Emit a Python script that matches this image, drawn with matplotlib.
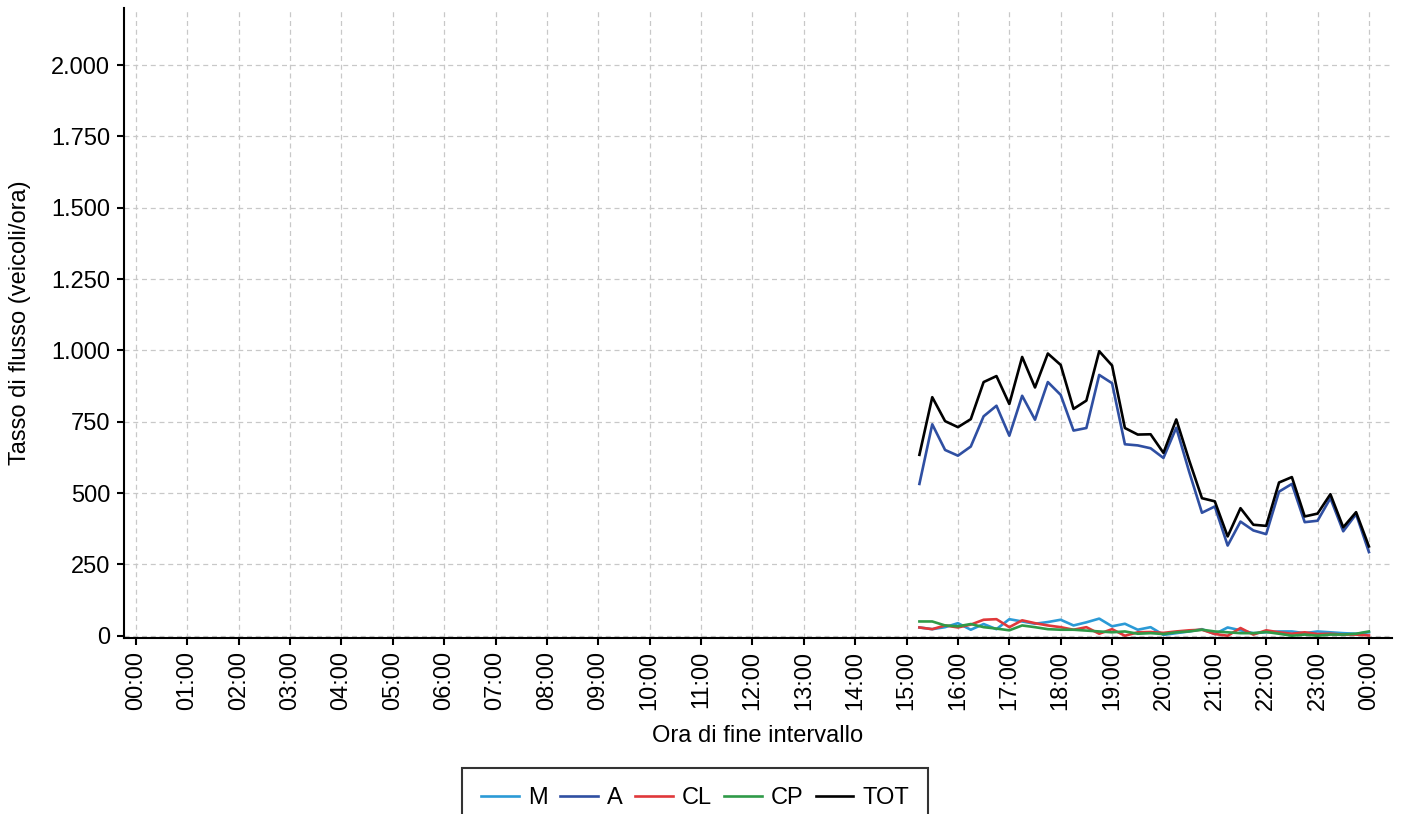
#!/usr/bin/env python3
# -*- coding: utf-8 -*-

"""
Flow rate chart: vehicles per hour by class, 15-minute intervals.
"""

import matplotlib
matplotlib.use("Agg")
import matplotlib.pyplot as plt
from matplotlib.ticker import FuncFormatter

# End-of-interval times (hh:mm), 24:00 = midnight of the next day
times = [
    "15:15", "15:30", "15:45", "16:00", "16:15", "16:30", "16:45", "17:00",
    "17:15", "17:30", "17:45", "18:00", "18:15", "18:30", "18:45", "19:00",
    "19:15", "19:30", "19:45", "20:00", "20:15", "20:30", "20:45", "21:00",
    "21:15", "21:30", "21:45", "22:00", "22:15", "22:30", "22:45", "23:00",
    "23:15", "23:30", "23:45", "24:00",
]

# Flow rates (veicoli/ora)
m_vals = [29, 23, 30, 44, 21, 41, 23, 58, 50, 42, 48, 56, 36, 47, 60, 33, 42, 21,
          30, 3, 9, 15, 23, 6, 29, 19, 9, 12, 15, 15, 9, 15, 12, 9, 7, 12]
a_vals = [532, 741, 651, 631, 663, 769, 806, 701, 841, 757, 889, 844, 719, 728,
          914, 885, 671, 667, 657, 623, 729, 575, 431, 453, 316, 400, 369, 356,
          505, 532, 398, 403, 482, 366, 426, 293]
cl_vals = [29, 23, 36, 29, 39, 56, 58, 30, 54, 44, 36, 30, 21, 30, 7, 23, 0, 12,
           13, 10, 15, 19, 21, 6, 0, 27, 4, 19, 12, 7, 12, 6, 7, 4, 4, 1]
cp_vals = [50, 50, 36, 33, 41, 30, 25, 19, 36, 30, 23, 21, 21, 18, 15, 12, 15, 7,
           9, 6, 12, 15, 21, 15, 12, 9, 9, 13, 7, 0, 4, 0, 4, 4, 7, 15]
tot_vals = [634, 836, 752, 731, 759, 889, 910, 812, 977, 870, 989, 949, 795, 824,
            997, 947, 728, 705, 706, 641, 758, 615, 482, 471, 348, 447, 389, 385,
            537, 556, 418, 428, 496, 380, 433, 313]

series_labels = ["M", "A", "CL", "CP", "TOT"]
series_colors = ["#2b9ad6", "#2f4fa2", "#e0383a", "#2f9a48", "#000000"]

# Hourly tick labels along the x axis
hour_labels = [f"{h:02d}:00" for h in range(24)] + ["00:00"]


def to_hours(label):
    """Convert an 'hh:mm' string into decimal hours"""
    hh, mm = label.split(":")
    return int(hh) + int(mm) / 60.0


def it_thousands(value, pos):
    """Format tick values with Italian thousands separator"""
    return f"{int(round(value)):,}".replace(",", ".")


def create_chart(output_file):
    plt.rcParams["font.family"] = ["Liberation Sans", "DejaVu Sans"]
    fs = 17

    fig = plt.figure(figsize=(14.02, 8.14), dpi=100)
    ax = fig.add_axes([0.0884, 0.2162, 0.9045, 0.774])

    x = [to_hours(t) for t in times]
    all_series = [m_vals, a_vals, cl_vals, cp_vals, tot_vals]

    handles = []
    for values, label, color in zip(all_series, series_labels, series_colors):
        line, = ax.plot(x, values, color=color, linewidth=1.9, label=label)
        handles.append(line)

    # Axes limits and ticks
    ax.set_xlim(-0.234, 24.45)
    ax.set_ylim(-8, 2200)
    ax.set_xticks(range(25))
    ax.set_xticklabels(hour_labels, rotation=90, fontsize=fs)
    ax.set_yticks(range(0, 2001, 250))
    ax.yaxis.set_major_formatter(FuncFormatter(it_thousands))
    ax.tick_params(axis="y", labelsize=fs, length=5, width=1.5,
                   direction="out", pad=5)
    ax.tick_params(axis="x", length=5, width=1.5, direction="out", pad=4)

    # Spines
    for side in ["top", "right"]:
        ax.spines[side].set_visible(False)
    for side in ["left", "bottom"]:
        ax.spines[side].set_linewidth(1.5)

    # Grid
    ax.grid(True, color="#c8c8c8", linestyle=(0, (4, 3)), linewidth=0.9)
    ax.set_axisbelow(True)

    ax.set_xlabel("Ora di fine intervallo", fontsize=fs, labelpad=11)
    ax.set_ylabel("Tasso di flusso (veicoli/ora)", fontsize=fs, labelpad=14)

    # Legend below the plot, partly cut by the figure edge
    leg = fig.legend(handles, series_labels, loc="upper center",
                     bbox_to_anchor=(0.496, 0.0565), ncol=5, fontsize=fs,
                     frameon=True, fancybox=False, handlelength=1.6,
                     handletextpad=0.4, columnspacing=0.5, borderpad=0.8,
                     borderaxespad=0)
    leg.get_frame().set_edgecolor("black")
    leg.get_frame().set_linewidth(1.5)

    fig.savefig(output_file, dpi=100)


def main():
    create_chart("out.png")


if __name__ == "__main__":
    main()
